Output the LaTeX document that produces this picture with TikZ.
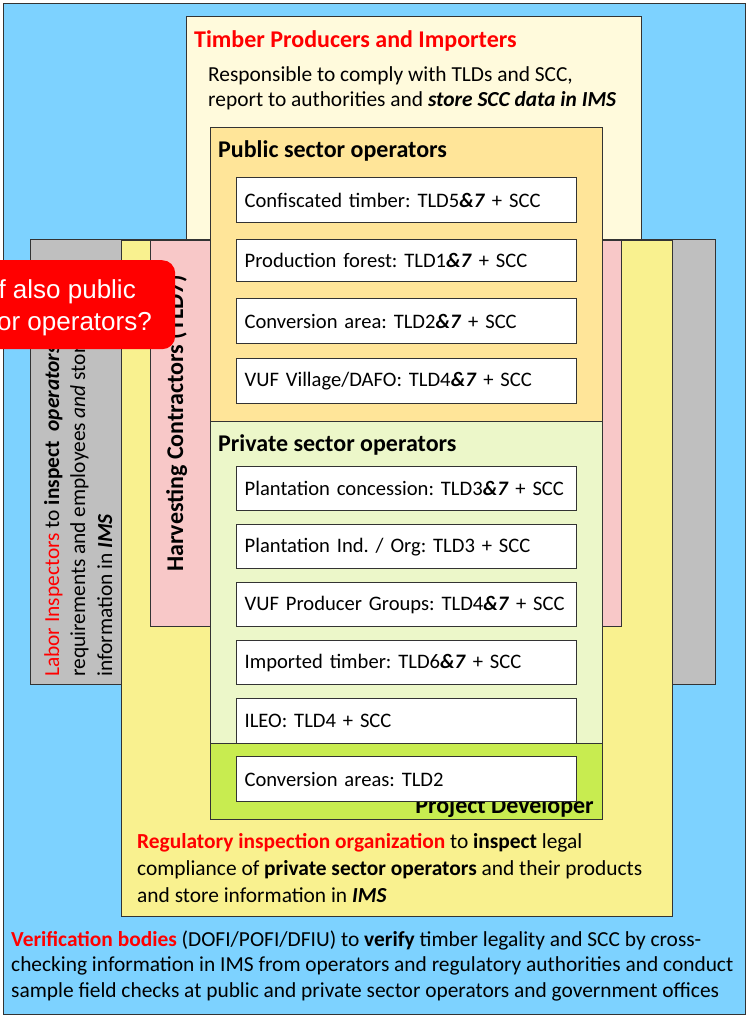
\documentclass[tikz,border=0pt]{standalone}
\usepackage{fontspec}
\setmainfont{Carlito}
\newfontfamily\arialfont{Liberation Sans}
\definecolor{bgblue}{RGB}{125,210,255}
\definecolor{creamb}{RGB}{255,250,220}
\definecolor{grayb}{RGB}{191,191,191}
\definecolor{yellowb}{RGB}{249,241,143}
\definecolor{pinkb}{RGB}{248,200,200}
\definecolor{orangeb}{RGB}{255,229,153}
\definecolor{lgreenb}{RGB}{236,247,201}
\definecolor{greenb}{RGB}{200,236,80}
\definecolor{redt}{RGB}{255,0,0}
\newcommand{\bi}[1]{\textbf{\textit{#1}}}
\frenchspacing
\begin{document}
\begin{tikzpicture}[x=1pt,y=-1pt,
  panel/.style={draw=black!80, line width=1.3pt, anchor=north west, inner sep=0pt},
  item/.style={draw=black!80, line width=1.3pt, fill=white, anchor=north west,
    inner xsep=8pt, inner ysep=0pt, text width=324pt, align=left, minimum height=44pt,
    font=\fontsize{20.6}{25}\selectfont\frenchspacing},
  txt/.style={inner sep=0pt, anchor=base west, font=\fontsize{21.4}{25}\selectfont\frenchspacing},
  ttl/.style={inner sep=0pt, anchor=base west, font=\fontsize{24}{28}\selectfont\bfseries},
  rtxt/.style={inner sep=0pt, anchor=base west, rotate=90, font=\fontsize{21.4}{25}\selectfont\frenchspacing},
  cotxt/.style={inner sep=0pt, anchor=base east, text=white, font=\arialfont\fontsize{26}{31}\selectfont}
]
\useasboundingbox (0,0) rectangle (749,1017);
\clip (0,0) rectangle (749,1017);
% panels
\node[panel, fill=bgblue, minimum width=742pt, minimum height=1011pt] (vb) at (3,3) {};
\node[panel, fill=creamb, minimum width=455pt, minimum height=223pt] (tp) at (186,16) {};
\node[panel, fill=grayb, minimum width=685pt, minimum height=445pt] (li) at (30,239) {};
\node[panel, fill=yellowb, minimum width=551pt, minimum height=676pt] (ri) at (121,240) {};
\node[panel, fill=pinkb, minimum width=471pt, minimum height=386pt] (hc) at (150,240) {};
\node[panel, fill=orangeb, minimum width=392pt, minimum height=294pt] (pub) at (210,127) {};
\node[panel, fill=lgreenb, minimum width=392pt, minimum height=322pt] (priv) at (210,421) {};
\node[panel, fill=greenb, minimum width=392pt, minimum height=76pt] (pd) at (210,743) {};

% titles and texts
\node[ttl, text=redt] (tpt) at (194,47) {Timber Producers and Importers};
\node[txt] (tpx1) at (208,81) {Responsible to comply with TLDs and SCC,};
\node[txt] (tpx2) at (208,106.5) {report to authorities and \bi{store SCC data in IMS}};
\node[ttl] (pubt) at (218,157) {Public sector operators};
\node[ttl] (privt) at (218,451) {Private sector operators};
\node[ttl, anchor=base east] (pdt) at (594,813) {Project Developer};

% labor inspectors (rotated, clipped to grey box)
\begin{scope}
\clip (30,239) rectangle (715,684);
\node[rtxt] (li1) at (59,677) {{\color{redt}Labor Inspectors} to \textbf{inspect}\ \ \bi{operators}' OSH};
\node[rtxt] (li2) at (85,677) {requirements and employees \textit{and} store};
\node[rtxt] (li3) at (112,677) {information in \bi{IMS}};
\end{scope}
\node[rtxt, font=\fontsize{24}{28}\selectfont\bfseries] (hct) at (183,572) {Harvesting Contractors (TLD7)};

% items
\node[item, minimum height=45pt] (i1) at (236,177) {\mbox{Confiscated timber: TLD5\bi{\&7} + SCC}};
\node[item, minimum height=42pt] (i2) at (236,239) {\mbox{Production forest: TLD1\bi{\&7} + SCC}};
\node[item, minimum height=45pt] (i3) at (236,298) {\mbox{Conversion area: TLD2\bi{\&7} + SCC}};
\node[item, minimum height=45pt] (i4) at (236,358) {\mbox{VUF Village/DAFO: TLD4\bi{\&7} + SCC}};
\node[item] (i5) at (236,466) {\mbox{Plantation concession: TLD3\bi{\&7} + SCC}};
\node[item] (i6) at (236,524) {\mbox{Plantation Ind. / Org: TLD3 + SCC}};
\node[item] (i7) at (236,582) {\mbox{VUF Producer Groups: TLD4\bi{\&7} + SCC}};
\node[item] (i8) at (236,640) {\mbox{Imported timber: TLD6\bi{\&7} + SCC}};
\node[item, minimum height=45pt] (i9) at (236,698) {\mbox{ILEO: TLD4 + SCC}};
\node[item, minimum height=45pt] (i10) at (236,756) {\mbox{Conversion areas: TLD2}};

% regulatory text
\node[txt] (rit1) at (137,848) {{\color{redt}\bfseries Regulatory inspection organization} to \textbf{inspect} legal};
\node[txt] (rit2) at (137,875.5) {compliance of \textbf{private sector operators} and their products};
\node[txt] (rit3) at (137,902.5) {and store information in \bi{IMS}};
% verification text
\node[txt] (vbt1) at (11,946) {{\color{redt}\bfseries Verification bodies} (DOFI/POFI/DFIU) to \textbf{verify} timber legality and SCC by cross-};
\node[txt] (vbt2) at (11,971.5) {checking information in IMS from operators and regulatory authorities and conduct};
\node[txt] (vbt3) at (11,997) {sample field checks at public and private sector operators and government offices};

% callout
\node[fill=redt, rounded corners=13pt, anchor=north west, minimum width=245pt, minimum height=89pt, inner sep=0pt] (co) at (-70,260) {};
\node[cotxt] (co1) at (136,298) {If also public};
\node[cotxt] (co2) at (152,330) {sector operators?};
\end{tikzpicture}
\end{document}
